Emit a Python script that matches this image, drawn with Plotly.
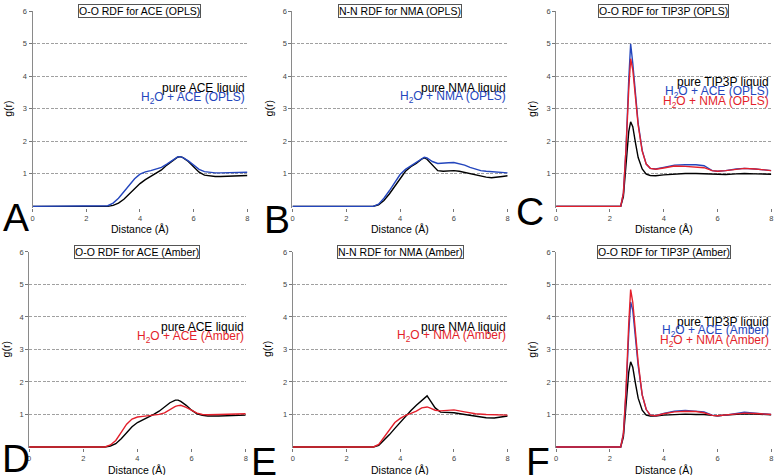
import plotly.graph_objects as go

# ---------------- data ----------------
# Panel A: O-O RDF for ACE (OPLS)
a_x_pure = [0, 2.6, 2.8, 3.0, 3.2, 3.4, 3.6, 3.8, 4.0, 4.2, 4.4, 4.6, 4.8, 5.0, 5.2, 5.4, 5.5, 5.6, 5.8, 6.0, 6.2, 6.4, 6.6, 6.8, 7.0, 7.4, 7.8, 8.0]
a_y_pure = [0, 0, 0.0, 0.03, 0.1, 0.22, 0.38, 0.55, 0.7, 0.82, 0.92, 1.0, 1.12, 1.27, 1.4, 1.51, 1.53, 1.5, 1.38, 1.2, 1.05, 0.96, 0.93, 0.92, 0.92, 0.93, 0.95, 0.95]
a_x_mix = [0, 2.6, 2.8, 3.0, 3.2, 3.4, 3.6, 3.8, 4.0, 4.2, 4.4, 4.6, 4.8, 5.0, 5.2, 5.4, 5.5, 5.6, 5.8, 6.0, 6.2, 6.4, 6.6, 6.8, 7.0, 7.4, 7.8, 8.0]
a_y_mix = [0, 0, 0.02, 0.1, 0.25, 0.45, 0.66, 0.85, 0.99, 1.06, 1.1, 1.15, 1.2, 1.3, 1.42, 1.52, 1.53, 1.5, 1.4, 1.26, 1.14, 1.07, 1.04, 1.03, 1.03, 1.04, 1.05, 1.05]

# Panel B: N-N RDF for NMA (OPLS)
b_x = [0, 3.0, 3.2, 3.4, 3.6, 3.8, 4.0, 4.2, 4.4, 4.6, 4.8, 4.9, 5.0, 5.2, 5.4, 5.6, 5.8, 6.0, 6.2, 6.4, 6.6, 6.8, 7.0, 7.2, 7.4, 7.6, 7.8, 8.0]
b_y_pure = [0, 0, 0.05, 0.18, 0.38, 0.62, 0.88, 1.08, 1.22, 1.32, 1.45, 1.49, 1.45, 1.28, 1.1, 1.08, 1.1, 1.1, 1.08, 1.04, 1.0, 0.97, 0.94, 0.9, 0.88, 0.89, 0.92, 0.94]
b_y_mix = [0, 0, 0.07, 0.25, 0.48, 0.74, 0.98, 1.14, 1.24, 1.34, 1.46, 1.51, 1.49, 1.38, 1.32, 1.32, 1.34, 1.35, 1.32, 1.27, 1.2, 1.14, 1.1, 1.08, 1.07, 1.05, 1.04, 1.03]

# Panel C: O-O RDF for TIP3P (OPLS)
c_x = [0, 2.4, 2.5, 2.6, 2.7, 2.77, 2.85, 2.95, 3.05, 3.2, 3.35, 3.5, 3.7, 4.0, 4.4, 4.8, 5.2, 5.5, 5.8, 6.0, 6.3, 6.7, 7.0, 7.4, 8.0]
c_y_pure = [0, 0, 0.3, 1.3, 2.3, 2.6, 2.45, 1.95, 1.5, 1.15, 0.99, 0.95, 0.94, 0.97, 1.0, 1.01, 1.01, 1.0, 0.98, 0.97, 0.98, 1.0, 1.01, 1.0, 0.99]
c_y_ace = [0, 0, 0.4, 1.8, 3.9, 5.0, 4.4, 3.4, 2.55, 1.72, 1.3, 1.17, 1.15, 1.2, 1.27, 1.28, 1.28, 1.25, 1.1, 1.08, 1.1, 1.15, 1.17, 1.15, 1.1]
c_y_nma = [0, 0, 0.4, 1.8, 3.6, 4.54, 4.2, 3.3, 2.5, 1.7, 1.3, 1.17, 1.14, 1.18, 1.24, 1.23, 1.21, 1.19, 1.1, 1.08, 1.1, 1.15, 1.17, 1.15, 1.1]

# Panel D: O-O RDF for ACE (Amber)
d_x = [0, 2.8, 3.0, 3.2, 3.4, 3.6, 3.8, 4.0, 4.2, 4.4, 4.6, 4.8, 5.0, 5.2, 5.4, 5.5, 5.6, 5.8, 6.0, 6.2, 6.4, 6.6, 7.0, 7.5, 8.0]
d_y_pure = [0, 0, 0.03, 0.1, 0.25, 0.45, 0.62, 0.75, 0.83, 0.91, 1.0, 1.1, 1.22, 1.36, 1.44, 1.44, 1.4, 1.28, 1.13, 1.02, 0.97, 0.95, 0.95, 0.96, 0.98]
d_y_mix = [0, 0, 0.06, 0.2, 0.45, 0.7, 0.86, 0.92, 0.94, 0.96, 0.97, 1.0, 1.05, 1.15, 1.25, 1.27, 1.28, 1.22, 1.12, 1.04, 1.0, 0.99, 1.0, 1.01, 1.02]

# Panel E: N-N RDF for NMA (Amber)
e_x = [0, 3.0, 3.2, 3.4, 3.6, 3.8, 4.0, 4.2, 4.4, 4.6, 4.8, 4.95, 5.0, 5.1, 5.3, 5.5, 5.8, 6.0, 6.4, 6.8, 7.2, 7.5, 7.8, 8.0]
e_y_pure = [0, 0, 0.05, 0.2, 0.38, 0.57, 0.76, 0.95, 1.12, 1.28, 1.43, 1.53, 1.57, 1.45, 1.2, 1.07, 1.05, 1.05, 1.0, 0.95, 0.9, 0.89, 0.92, 0.95]
e_y_mix = [0, 0, 0.08, 0.3, 0.55, 0.75, 0.88, 0.97, 1.03, 1.1, 1.2, 1.24, 1.23, 1.2, 1.13, 1.11, 1.14, 1.14, 1.08, 1.02, 1.0, 0.99, 0.99, 0.98]

# Panel F: O-O RDF for TIP3P (Amber)
f_x = [0, 2.4, 2.5, 2.6, 2.7, 2.77, 2.85, 2.95, 3.05, 3.2, 3.35, 3.5, 3.7, 4.0, 4.4, 4.8, 5.2, 5.5, 5.8, 6.0, 6.3, 6.7, 7.0, 7.4, 8.0]
f_y_pure = [0, 0, 0.3, 1.3, 2.3, 2.62, 2.45, 1.95, 1.5, 1.13, 0.98, 0.95, 0.95, 0.98, 1.0, 1.01, 1.0, 1.0, 0.97, 0.96, 0.98, 1.01, 1.02, 1.01, 0.99]
f_y_ace = [0, 0, 0.4, 1.7, 3.5, 4.46, 4.2, 3.35, 2.5, 1.6, 1.15, 0.98, 0.96, 1.03, 1.1, 1.12, 1.11, 1.08, 0.98, 0.96, 0.98, 1.03, 1.07, 1.04, 1.0]
f_y_nma = [0, 0, 0.4, 1.8, 3.8, 4.84, 4.45, 3.5, 2.6, 1.6, 1.15, 0.98, 0.96, 1.02, 1.08, 1.1, 1.09, 1.05, 0.97, 0.96, 0.98, 1.02, 1.04, 1.03, 1.0]

x_ticks = [0, 2, 4, 6, 8]
y_ticks = [1, 2, 3, 4, 5, 6]
panel_titles = ["O-O RDF for ACE (OPLS)", "N-N RDF for NMA (OPLS)", "O-O RDF for TIP3P (OPLS)",
                "O-O RDF for ACE (Amber)", "N-N RDF for NMA (Amber)", "O-O RDF for TIP3P (Amber)"]
panel_letters = ["A", "B", "C", "D", "E", "F"]
x_title = "Distance (Å)"
y_title = "g(r)"

BLACK = "#000000"
BLUE = "#2446bd"
RED = "#e31f2b"
FONT = "Liberation Sans, Arial, sans-serif"

# series per panel: (x, y, color, legend label)
panels = [
    [(a_x_pure, a_y_pure, BLACK, "pure ACE liquid"), (a_x_mix, a_y_mix, BLUE, "H<sub>2</sub>O + ACE (OPLS)")],
    [(b_x, b_y_pure, BLACK, "pure NMA liquid"), (b_x, b_y_mix, BLUE, "H<sub>2</sub>O + NMA (OPLS)")],
    [(c_x, c_y_pure, BLACK, "pure TIP3P liquid"), (c_x, c_y_ace, BLUE, "H<sub>2</sub>O + ACE (OPLS)"),
     (c_x, c_y_nma, RED, "H<sub>2</sub>O + NMA (OPLS)")],
    [(d_x, d_y_pure, BLACK, "pure ACE liquid"), (d_x, d_y_mix, RED, "H<sub>2</sub>O + ACE (Amber)")],
    [(e_x, e_y_pure, BLACK, "pure NMA liquid"), (e_x, e_y_mix, RED, "H<sub>2</sub>O + NMA (Amber)")],
    [(f_x, f_y_pure, BLACK, "pure TIP3P liquid"), (f_x, f_y_ace, BLUE, "H<sub>2</sub>O + ACE (Amber)"),
     (f_x, f_y_nma, RED, "H<sub>2</sub>O + NMA (Amber)")],
]

W, H = 776, 475
# pixel geometry: (x left, x right, y of value 6, y of value 0)
geom = [
    (30.7, 246.7, 7.3, 204.1),
    (292.0, 508.3, 7.3, 204.1),
    (557.0, 773.3, 7.3, 204.1),
    (27.3, 245.0, 250.0, 446.7),
    (292.3, 508.3, 250.0, 446.7),
    (557.0, 773.3, 250.0, 446.7),
]
legend_top = [85, 84.3, 79, 326, 325.3, 320.3]
letter_pos = [(-1, 215), (261, 217), (515, 209), (-2, 458), (248, 461), (525, 461)]
ylab_x = [6, 268, 533, 4, 267, 533]

YMIN = -0.04
fig = go.Figure()
layout = dict(width=W, height=H, margin=dict(l=0, r=0, t=0, b=0),
              paper_bgcolor="white", plot_bgcolor="white", showlegend=False,
              font=dict(family=FONT, color="#000"))
annotations = []
for i, series in enumerate(panels):
    k = "" if i == 0 else str(i + 1)
    xl, xr, y6, y0 = geom[i]
    unit = (y0 - y6) / 6.0
    ybot = y0 - YMIN * unit
    layout["xaxis" + k] = dict(domain=[xl / W, xr / W], range=[0, 8], anchor="y" + k,
                               tickvals=x_ticks, ticks="outside", ticklen=3, tickcolor="#777",
                               tickfont=dict(size=7.5, color="#444"), showgrid=False,
                               zeroline=False, showline=False, fixedrange=True)
    layout["yaxis" + k] = dict(domain=[1 - ybot / H, 1 - y6 / H], range=[YMIN, 6], anchor="x" + k,
                               tickvals=y_ticks, ticks="outside", ticklen=3, tickcolor="#777",
                               tickfont=dict(size=7.5, color="#444"), showgrid=True,
                               gridcolor="#a0a0a0", griddash="3px,1.5px", gridwidth=1,
                               zeroline=False, showline=True, linecolor="#8a8a8a", linewidth=1,
                               fixedrange=True)
    for (xs, ys, col, _) in series:
        fig.add_trace(go.Scatter(x=xs, y=ys, mode="lines", line=dict(color=col, width=1.4),
                                 xaxis="x" + k, yaxis="y" + k, hoverinfo="skip"))
    # title box
    annotations.append(dict(text=panel_titles[i], x=4, y=6, xref="x" + k, yref="y" + k,
                            showarrow=False, font=dict(size=10.5, color="#000"),
                            bgcolor="white", bordercolor="#555", borderwidth=1, borderpad=0,
                            xanchor="center", yanchor="middle"))
    # legend text
    for j, (_, _, col, lab) in enumerate(series):
        ypx = legend_top[i] + j * 9.8
        annotations.append(dict(text=lab, x=xr / W, y=1 - ypx / H, xref="paper", yref="paper",
                                showarrow=False, font=dict(size=12, color=col),
                                xanchor="right", yanchor="middle"))
    # axis titles
    annotations.append(dict(text=x_title, x=(xl + xr) / 2 / W, y=1 - (y0 + 23) / H,
                            xref="paper", yref="paper", showarrow=False,
                            font=dict(size=10.5, color="#000"), xanchor="center", yanchor="middle"))
    annotations.append(dict(text=y_title, x=ylab_x[i] / W, y=1 - (y0 - 3 * unit) / H,
                            xref="paper", yref="paper", showarrow=False, textangle=-90,
                            font=dict(size=10.5, color="#000"), xanchor="center", yanchor="middle"))
    # panel letter
    lx, ly = letter_pos[i]
    annotations.append(dict(text=panel_letters[i], x=lx / W, y=1 - ly / H, xref="paper", yref="paper",
                            showarrow=False, font=dict(size=39, color="#000"),
                            xanchor="left", yanchor="middle"))

layout["annotations"] = annotations
fig.update_layout(**layout)
fig.write_html("out.html", config={"displayModeBar": False, "staticPlot": True},
               post_script="document.body.style.margin='0px';document.body.style.padding='0px';document.body.style.overflow='hidden';")
